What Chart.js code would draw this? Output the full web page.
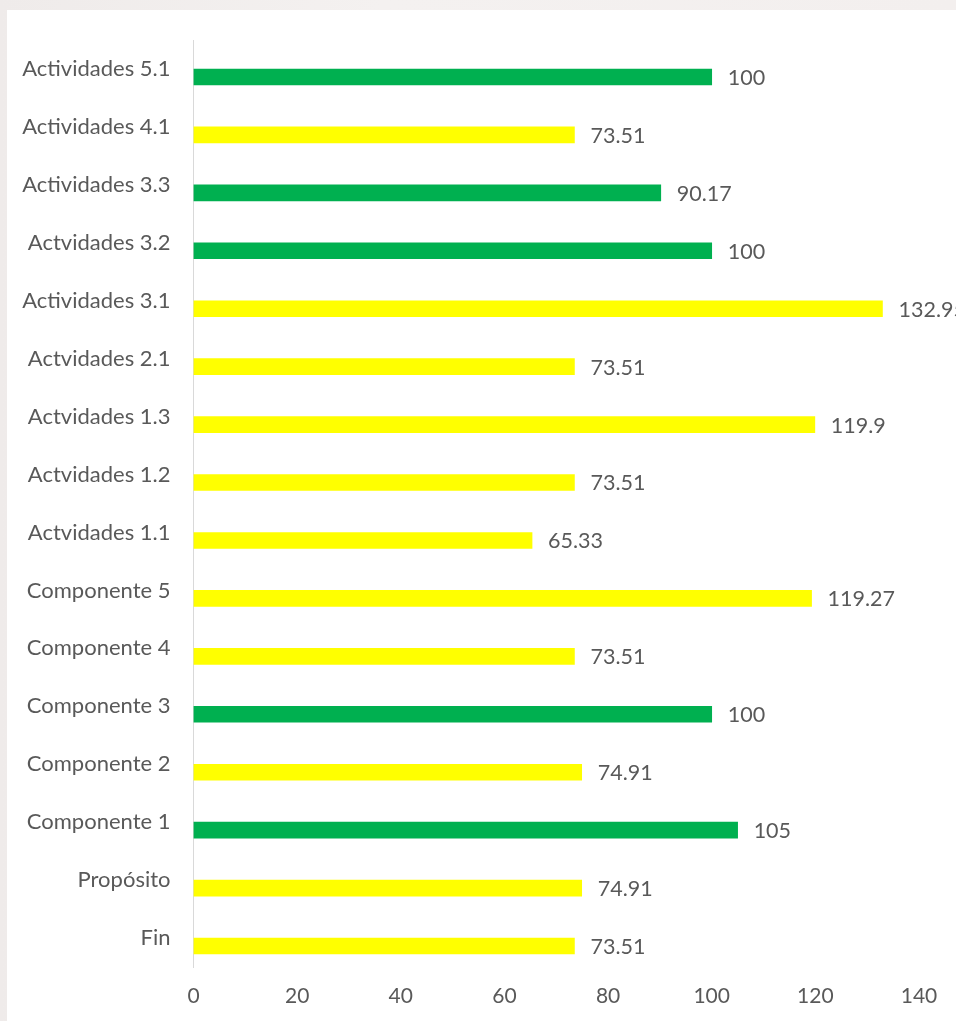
<!DOCTYPE html>
<html>
<head>
<meta charset="utf-8">
<script src="https://cdn.jsdelivr.net/npm/chart.js@4.4.1/dist/chart.umd.min.js"></script>
<style>
  html, body { margin: 0; padding: 0; width: 956px; height: 1021px; overflow: hidden; }
  body { background: linear-gradient(90deg, #efebea 0%, #f4f1f0 40%, #f3efee 100%); position: relative; }
  #panel { position: absolute; left: 7px; top: 10px; width: 949px; height: 1011px; background: #ffffff; }
  #wrap { position: absolute; left: 0; top: 0; width: 956px; height: 1021px; }
</style>
</head>
<body>
<div id="panel"></div>
<div id="wrap"><canvas id="c" width="956" height="1021"></canvas></div>
<script>
const categories = [
  "Actividades 5.1", "Actividades 4.1", "Actividades 3.3", "Actvidades 3.2",
  "Actividades 3.1", "Actvidades 2.1", "Actvidades 1.3", "Actvidades 1.2",
  "Actvidades 1.1", "Componente 5", "Componente 4", "Componente 3",
  "Componente 2", "Componente 1", "Propósito", "Fin"
];
const values = [100, 73.51, 90.17, 100, 132.95, 73.51, 119.9, 73.51, 65.33, 119.27, 73.51, 100, 74.91, 105, 74.91, 73.51];
const valueLabels = ["100", "73.51", "90.17", "100", "132.95", "73.51", "119.9", "73.51", "65.33", "119.27", "73.51", "100", "74.91", "105", "74.91", "73.51"];
const status = ["green", "yellow", "green", "green", "yellow", "yellow", "yellow", "yellow", "yellow", "yellow", "yellow", "green", "yellow", "green", "yellow", "yellow"];
const placeholder = [null, null, null, null, null, null, null, null, null, null, null, null, null, null, null, null];
const xTicks = [0, 20, 40, 60, 80, 100, 120, 140];

const palette = { green: "#00b050", yellow: "#ffff00" };
const FONT = "Lato";
const TEXT = "#595959";

const labelPlugin = {
  id: "valueLabels",
  afterDatasetsDraw(chart) {
    const ctx = chart.ctx;
    const meta = chart.getDatasetMeta(1);
    ctx.save();
    ctx.font = "21.5px " + FONT;
    ctx.fillStyle = TEXT;
    ctx.textAlign = "left";
    ctx.textBaseline = "middle";
    meta.data.forEach((bar, i) => {
      ctx.fillText(valueLabels[i], bar.x + 16, bar.y + 1);
    });
    ctx.restore();
  }
};

new Chart(document.getElementById("c"), {
  type: "bar",
  data: {
    labels: categories,
    datasets: [
      { data: placeholder, backgroundColor: "rgba(0,0,0,0)" },
      { data: values, backgroundColor: status.map(s => palette[s]), borderWidth: 0 }
    ]
  },
  options: {
    indexAxis: "y",
    responsive: false,
    animation: false,
    devicePixelRatio: 1,
    datasets: { bar: { barThickness: 16 } },
    layout: { padding: { top: 40, right: 37, left: 0, bottom: 0 } },
    plugins: { legend: { display: false }, tooltip: { enabled: false } },
    scales: {
      x: {
        min: 0, max: 140,
        afterBuildTicks(scale) { scale.ticks = xTicks.map(v => ({ value: v })); },
        afterFit(scale) { scale.height = 54; },
        grid: { display: false, drawTicks: false },
        border: { display: false },
        ticks: { padding: 17, color: TEXT, font: { family: FONT, size: 21 }, maxRotation: 0 }
      },
      y: {
        afterFit(scale) { scale.width = 193.5; },
        grid: { display: false, drawTicks: false },
        border: { display: true, color: "#d9d9d9", width: 1 },
        ticks: { padding: 23, color: TEXT, font: { family: FONT, size: 22 }, autoSkip: false }
      }
    }
  },
  plugins: [labelPlugin]
});
</script>
</body>
</html>
